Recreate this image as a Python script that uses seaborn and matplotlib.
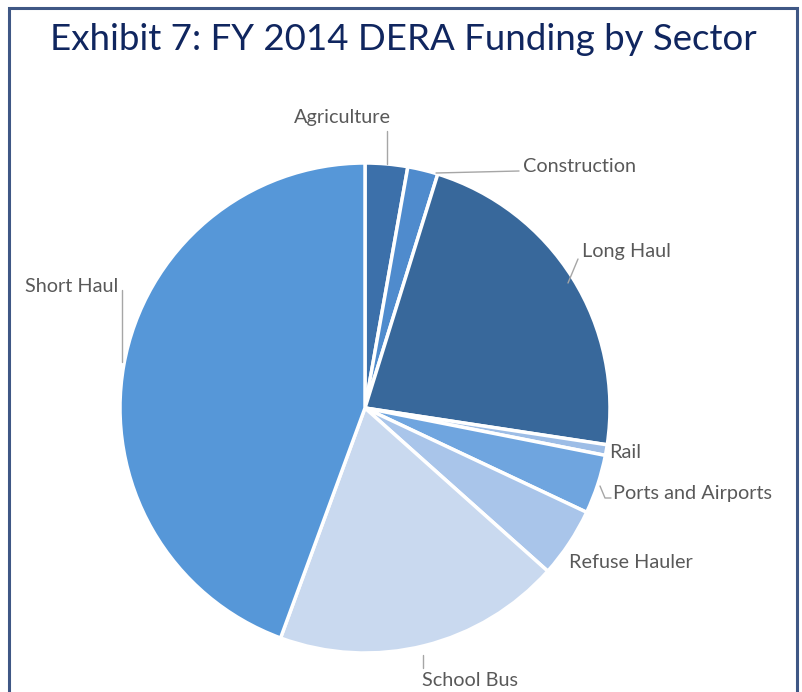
import matplotlib
matplotlib.use("Agg")
import matplotlib.pyplot as plt
from matplotlib.patches import Rectangle
import seaborn as sns

# FY 2014 DERA funding share by sector (percent of total)
sectors = ["Agriculture", "Construction", "Long Haul", "Rail",
           "Ports and Airports", "Refuse Hauler", "School Bus", "Short Haul"]
shares = [2.8, 2.0, 22.6, 0.7, 3.9, 4.6, 19.0, 44.4]
colors = ["#3c70aa", "#4f8bcd", "#38689b", "#9dbde6",
          "#6fa5df", "#a9c5ea", "#c9d9ef", "#5697d8"]

sns.set_theme(style="white")
plt.rcParams["font.family"] = ["Lato", "DejaVu Sans"]

W, H = 802, 692
fig = plt.figure(figsize=(W / 100, H / 100), dpi=100)
fig.patch.set_facecolor("white")

# pie centre and radius in pixels
cx, cy, R = 365, 408, 245
ax = fig.add_axes([(cx - R) / W, (H - cy - R) / H, 2 * R / W, 2 * R / H])
ax.pie(shares, colors=colors, startangle=90, counterclock=False,
       radius=1.0,
       wedgeprops=dict(edgecolor="white", linewidth=2.5))
ax.set_xlim(-1, 1)
ax.set_ylim(-1, 1)
ax.set_aspect("equal")
ax.axis("off")


def d(px, py):
    """pixel position -> data coordinates of the pie axes"""
    return (px - cx) / R, (cy - py) / R


label_color = "#595959"
line_color = "#a6a6a6"
fs = 14.3

# label text positions (pixel) and leader polylines
labels = [
    ("Agriculture", (342, 117), "center", [(387, 131), (387, 164)]),
    ("Construction", (523, 166), "left", [(436, 173), (519, 171)]),
    ("Long Haul", (582, 251), "left", [(578, 259), (568, 283)]),
    ("Rail", (609, 453), "left", None),
    ("Ports and Airports", (613, 494), "left", [(600, 486), (605, 498), (611, 498)]),
    ("Refuse Hauler", (569, 562), "left", None),
    ("School Bus", (470, 680), "center", [(423, 655), (423, 668)]),
    ("Short Haul", (72, 287), "center", [(122, 290), (122, 362)]),
]
for text, pos, ha, leader in labels:
    x, y = d(*pos)
    ax.text(x, y, text, ha=ha, va="center", fontsize=fs, color=label_color,
            clip_on=False)
    if leader:
        pts = [d(*p) for p in leader]
        ax.plot([p[0] for p in pts], [p[1] for p in pts], color=line_color,
                lw=1.0, clip_on=False)

fig.text(403 / W, 1 - 40 / H, "Exhibit 7: FY 2014 DERA Funding by Sector",
         ha="center", va="center", fontsize=26.4, color="#10265f")

# frame around the exhibit
fig.patches.append(Rectangle((9 / W, -0.05), (797 - 9) / W, (H - 8) / H + 0.05,
                             transform=fig.transFigure, fill=False,
                             edgecolor="#3f5785", linewidth=2.2))

fig.savefig("out.png", dpi=100)
